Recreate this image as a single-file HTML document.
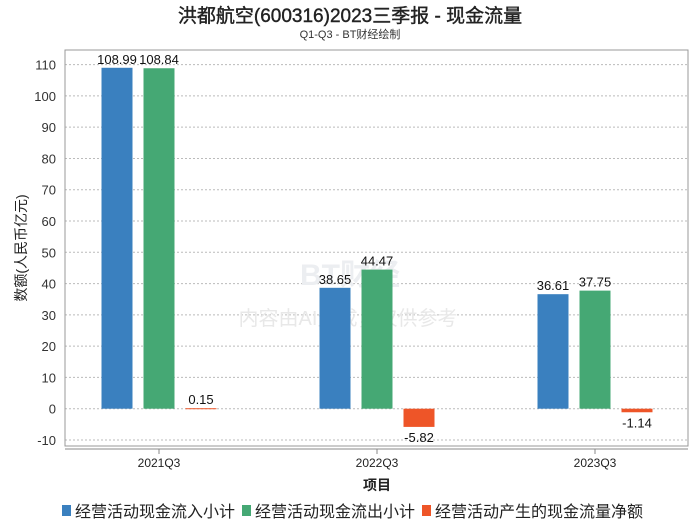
<!DOCTYPE html>
<html><head><meta charset="utf-8"><style>
body{margin:0;background:#fff;font-family:"Liberation Sans","Noto Sans CJK SC",sans-serif}
</style></head><body>
<svg width="700" height="524" xmlns="http://www.w3.org/2000/svg" font-family="Liberation Sans, Noto Sans CJK SC, sans-serif">
<text x="350" y="22" text-anchor="middle" font-size="19" fill="#222" stroke="#222" stroke-width="0.4">洪都航空(600316)2023三季报 - 现金流量</text>
<text x="350" y="38" text-anchor="middle" font-size="11" fill="#333">Q1-Q3 - BT财经绘制</text>
<g id="grid"></g>
<rect x="65" y="50" width="623" height="396" fill="none" stroke="#999"/>
<text x="350" y="285" text-anchor="middle" font-size="30" font-weight="bold" fill="#eceef1">BT财经</text>
<text x="348" y="325" text-anchor="middle" font-size="20" fill="#e8e8e8">内容由AI生成，仅供参考</text>
<g id="bars"></g>
<text transform="translate(26,248) rotate(-90)" text-anchor="middle" font-size="14" fill="#222">数额(人民币亿元)</text>
<text x="377" y="490" text-anchor="middle" font-size="14" font-weight="bold" fill="#222">项目</text>
<g id="legend"></g>
</svg>
<script>
const categories=["2021Q3","2022Q3","2023Q3"];
const inflow=[108.99,38.65,36.61];
const outflow=[108.84,44.47,37.75];
const net=[0.15,-5.82,-1.14];
const yTicks=[-10,0,10,20,30,40,50,60,70,80,90,100,110];
const seriesNames=["经营活动现金流入小计","经营活动现金流出小计","经营活动产生的现金流量净额"];
const colors=["#3a80bf","#45a874","#ee5528"];
const NS="http://www.w3.org/2000/svg";
function y(v){return 408.7-v*3.128;}
function xc(i){return 159+i*218;}
function mk(t,a,p){const e=document.createElementNS(NS,t);for(const k in a)e.setAttribute(k,a[k]);p.appendChild(e);return e;}
const grid=document.getElementById('grid'),bars=document.getElementById('bars'),leg=document.getElementById('legend');
yTicks.forEach(t=>{
 const l=mk('line',{x1:65,x2:688,y1:y(t),y2:y(t),stroke:'#bbb','stroke-dasharray':'2,2'},grid);
 
 
 const tx=mk('text',{x:56,y:y(t)+5,'text-anchor':'end','font-size':13,fill:'#333'},grid);
 tx.textContent=t;
 
 
});
mk('line',{x1:65,x2:688,y1:449,y2:449,stroke:'#888'},grid);
categories.forEach((c,i)=>{
 mk('line',{x1:xc(i),x2:xc(i),y1:449,y2:454,stroke:'#888'},grid);
 const tx=mk('text',{x:xc(i),y:467,'text-anchor':'middle','font-size':12,fill:'#222'},grid);
 tx.textContent=c;
 
 
 [inflow,outflow,net].forEach((s,j)=>{
  const v=s[i],x=xc(i)+(j-1)*42-15.5;
  const top=Math.min(y(v),y(0)),h=Math.max(Math.abs(y(v)-y(0)),1);
  const r=mk('rect',{x:x,y:top,width:31,height:h,fill:colors[j]},bars);
  
  
  const lt=mk('text',{x:x+15.5,y:v>=0?y(v)-4:y(v)+15,'text-anchor':'middle','font-size':13,fill:'#111'},bars);
  lt.textContent=v.toFixed(2);
  
  
 });
});
let lx=62;
seriesNames.forEach((n,j)=>{
 const r=mk('rect',{x:lx,y:505,width:9,height:11,fill:colors[j]},leg);
 
 
 const t=mk('text',{x:lx+13,y:517,'font-size':16,fill:'#222'},leg);
 t.textContent=n;
 
 
 lx+=13+n.length*16+7;
});
</script>
</body></html>
